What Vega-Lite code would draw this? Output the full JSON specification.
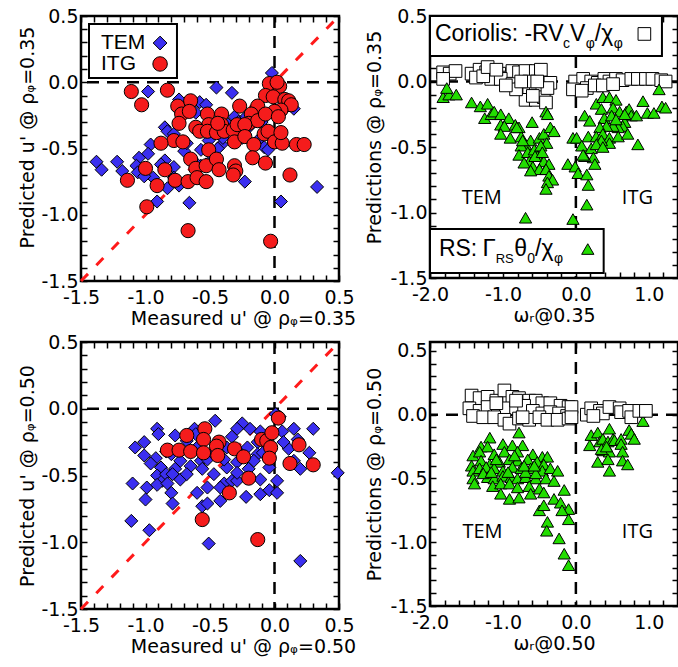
{
  "$schema": "https://vega.github.io/schema/vega-lite/v6.json",
  "background": "white",
  "padding": {"left": 17, "top": 5, "right": 0, "bottom": 0},
  "bounds": "flush",
  "columns": 2,
  "spacing": {"row": 61, "column": 91},
  "datasets": {
    "tl_tem": [
      {"measured":-0.98,"predicted":-0.07},{"measured":-0.45,"predicted":-0.04},{"measured":-0.33,"predicted":-0.08},{"measured":-0.74,"predicted":-0.13},{"measured":-0.58,"predicted":-0.15},{"measured":-0.53,"predicted":-0.17},{"measured":-0.61,"predicted":-0.23},{"measured":-0.85,"predicted":-0.34},{"measured":-0.83,"predicted":-0.37},{"measured":-0.96,"predicted":-0.47},{"measured":-0.98,"predicted":-0.54},{"measured":-1.05,"predicted":-0.57},{"measured":-1.07,"predicted":-0.63},{"measured":-1.06,"predicted":-0.68},{"measured":-1.38,"predicted":-0.6},{"measured":-1.34,"predicted":-0.66},{"measured":-1.22,"predicted":-0.6},{"measured":-1.18,"predicted":-0.67},{"measured":-0.85,"predicted":-0.59},{"measured":-0.78,"predicted":-0.64},{"measured":-0.94,"predicted":-0.72},{"measured":-1.01,"predicted":-0.71},{"measured":-0.83,"predicted":-0.8},{"measured":-0.74,"predicted":-0.78},{"measured":-0.91,"predicted":-0.9},{"measured":-0.66,"predicted":-0.91},{"measured":-0.23,"predicted":-0.75},{"measured":-0.08,"predicted":-0.49},{"measured":-0.05,"predicted":-0.51},{"measured":0.05,"predicted":-0.9},{"measured":0.33,"predicted":-0.79},{"measured":-0.51,"predicted":-0.44},{"measured":-0.41,"predicted":-0.47},{"measured":-0.7,"predicted":-0.52},{"measured":-0.57,"predicted":-0.51},{"measured":-0.47,"predicted":-0.57},{"measured":-0.53,"predicted":-0.62},{"measured":-0.23,"predicted":-0.27},{"measured":-0.13,"predicted":-0.44},{"measured":0.15,"predicted":-0.2},{"measured":-0.31,"predicted":-0.26},{"measured":-0.36,"predicted":-0.32},{"measured":-0.2,"predicted":-0.34},{"measured":-0.78,"predicted":-0.39},{"measured":-0.02,"predicted":0.07},{"measured":-0.28,"predicted":-0.3},{"measured":-0.57,"predicted":-0.63},{"measured":-0.78,"predicted":-0.72},{"measured":-0.05,"predicted":-0.1},{"measured":-0.62,"predicted":-0.6},{"measured":-0.44,"predicted":-0.5},{"measured":-0.25,"predicted":-0.42},{"measured":-0.1,"predicted":-0.3},{"measured":0.1,"predicted":-0.18},{"measured":-0.88,"predicted":-0.62},{"measured":-0.68,"predicted":-0.46},{"measured":-0.4,"predicted":-0.42}
    ],
    "tl_itg": [
      {"measured":-1.11,"predicted":-0.07},{"measured":-1.03,"predicted":-0.17},{"measured":-0.83,"predicted":-0.06},{"measured":-0.04,"predicted":-0.01},{"measured":0.04,"predicted":-0.03},{"measured":-0.07,"predicted":-0.1},{"measured":-0.01,"predicted":-0.11},{"measured":0.08,"predicted":-0.13},{"measured":0.11,"predicted":-0.14},{"measured":0.13,"predicted":-0.17},{"measured":0.05,"predicted":-0.21},{"measured":0.0,"predicted":-0.22},{"measured":-0.13,"predicted":-0.18},{"measured":-0.27,"predicted":-0.18},{"measured":-0.18,"predicted":-0.24},{"measured":-0.2,"predicted":-0.31},{"measured":-0.13,"predicted":-0.29},{"measured":-0.07,"predicted":-0.24},{"measured":0.03,"predicted":-0.26},{"measured":-0.75,"predicted":-0.18},{"measured":-0.65,"predicted":-0.14},{"measured":-0.72,"predicted":-0.24},{"measured":-0.66,"predicted":-0.22},{"measured":-0.74,"predicted":-0.31},{"measured":-0.52,"predicted":-0.24},{"measured":-0.41,"predicted":-0.24},{"measured":-0.41,"predicted":-0.32},{"measured":-0.51,"predicted":-0.32},{"measured":-0.61,"predicted":-0.34},{"measured":-0.58,"predicted":-0.37},{"measured":-0.52,"predicted":-0.37},{"measured":-0.45,"predicted":-0.38},{"measured":-0.39,"predicted":-0.37},{"measured":-0.32,"predicted":-0.36},{"measured":-0.44,"predicted":-0.31},{"measured":-0.29,"predicted":-0.32},{"measured":-0.23,"predicted":-0.32},{"measured":-0.31,"predicted":-0.45},{"measured":-0.23,"predicted":-0.41},{"measured":-0.16,"predicted":-0.47},{"measured":-0.08,"predicted":-0.39},{"measured":-0.05,"predicted":-0.37},{"measured":0.0,"predicted":-0.45},{"measured":0.06,"predicted":-0.46},{"measured":0.17,"predicted":-0.47},{"measured":0.23,"predicted":-0.47},{"measured":0.05,"predicted":-0.38},{"measured":-0.78,"predicted":-0.44},{"measured":-0.71,"predicted":-0.45},{"measured":-0.88,"predicted":-0.46},{"measured":-0.51,"predicted":-0.51},{"measured":-0.65,"predicted":-0.58},{"measured":-0.61,"predicted":-0.65},{"measured":-0.53,"predicted":-0.63},{"measured":-0.45,"predicted":-0.58},{"measured":-0.43,"predicted":-0.66},{"measured":-0.31,"predicted":-0.63},{"measured":-0.3,"predicted":-0.67},{"measured":-0.32,"predicted":-0.7},{"measured":-0.17,"predicted":-0.57},{"measured":-0.07,"predicted":-0.61},{"measured":0.12,"predicted":-0.7},{"measured":-1.0,"predicted":-0.65},{"measured":-0.85,"predicted":-0.66},{"measured":-1.14,"predicted":-0.74},{"measured":-0.91,"predicted":-0.78},{"measured":-0.77,"predicted":-0.74},{"measured":-0.67,"predicted":-0.75},{"measured":-0.6,"predicted":-0.72},{"measured":-0.53,"predicted":-0.75},{"measured":-0.99,"predicted":-0.94},{"measured":-0.67,"predicted":-1.12},{"measured":-0.03,"predicted":-1.2},{"measured":0.02,"predicted":0.0}
    ],
    "bl_tem": [
      {"measured":-0.91,"predicted":-0.15},{"measured":-0.9,"predicted":-0.19},{"measured":-1.01,"predicted":-0.25},{"measured":-1.08,"predicted":-0.29},{"measured":-1.01,"predicted":-0.35},{"measured":-0.92,"predicted":-0.37},{"measured":-0.88,"predicted":-0.44},{"measured":-0.91,"predicted":-0.5},{"measured":-0.87,"predicted":-0.54},{"measured":-0.84,"predicted":-0.49},{"measured":-0.77,"predicted":-0.45},{"measured":-0.79,"predicted":-0.49},{"measured":-0.73,"predicted":-0.39},{"measured":-0.77,"predicted":-0.2},{"measured":-0.62,"predicted":-0.15},{"measured":-0.61,"predicted":-0.19},{"measured":-0.46,"predicted":-0.09},{"measured":-0.65,"predicted":-0.43},{"measured":-0.57,"predicted":-0.39},{"measured":-0.52,"predicted":-0.38},{"measured":-0.56,"predicted":-0.45},{"measured":-0.73,"predicted":-0.53},{"measured":-0.68,"predicted":-0.49},{"measured":-1.1,"predicted":-0.56},{"measured":-0.99,"predicted":-0.59},{"measured":-1.0,"predicted":-0.68},{"measured":-0.91,"predicted":-0.57},{"measured":-0.83,"predicted":-0.56},{"measured":-0.8,"predicted":-0.63},{"measured":-0.79,"predicted":-0.71},{"measured":-1.11,"predicted":-0.84},{"measured":-0.97,"predicted":-0.91},{"measured":-0.6,"predicted":-0.63},{"measured":-0.52,"predicted":-0.59},{"measured":-0.56,"predicted":-0.73},{"measured":-0.52,"predicted":-0.71},{"measured":-0.42,"predicted":-0.69},{"measured":-0.47,"predicted":-0.49},{"measured":-0.39,"predicted":-0.56},{"measured":-0.33,"predicted":-0.54},{"measured":-0.37,"predicted":-0.44},{"measured":-0.29,"predicted":-0.4},{"measured":-0.25,"predicted":-0.34},{"measured":-0.21,"predicted":-0.29},{"measured":-0.13,"predicted":-0.25},{"measured":-0.11,"predicted":-0.17},{"measured":-0.19,"predicted":-0.15},{"measured":-0.25,"predicted":-0.11},{"measured":-0.29,"predicted":-0.15},{"measured":-0.33,"predicted":-0.21},{"measured":-0.37,"predicted":-0.29},{"measured":-0.22,"predicted":-0.66},{"measured":-0.11,"predicted":-0.64},{"measured":-0.11,"predicted":-0.53},{"measured":-0.04,"predicted":-0.61},{"measured":0.02,"predicted":-0.63},{"measured":0.02,"predicted":-0.54},{"measured":-0.04,"predicted":-0.44},{"measured":0.06,"predicted":-0.17},{"measured":0.15,"predicted":-0.15},{"measured":0.11,"predicted":-0.3},{"measured":0.18,"predicted":-0.23},{"measured":0.3,"predicted":-0.15},{"measured":0.27,"predicted":-0.33},{"measured":0.2,"predicted":-0.45},{"measured":0.15,"predicted":-0.39},{"measured":0.07,"predicted":-0.25},{"measured":-0.13,"predicted":-0.34},{"measured":-0.2,"predicted":-0.45},{"measured":-0.51,"predicted":-1.01},{"measured":0.2,"predicted":-1.14},{"measured":0.49,"predicted":-0.48},{"measured":0.01,"predicted":-0.04},{"measured":-0.42,"predicted":-0.59},{"measured":-0.29,"predicted":-0.54},{"measured":-0.68,"predicted":-0.24},{"measured":-0.84,"predicted":-0.32},{"measured":-0.96,"predicted":-0.41},{"measured":-0.8,"predicted":-0.34},{"measured":-0.6,"predicted":-0.29},{"measured":-0.48,"predicted":-0.33},{"measured":-0.39,"predicted":-0.38},{"measured":-0.29,"predicted":-0.48},{"measured":-0.16,"predicted":-0.39},{"measured":-0.09,"predicted":-0.33},{"measured":0.04,"predicted":-0.06}
    ],
    "bl_itg": [
      {"measured":0.03,"predicted":-0.07},{"measured":-0.54,"predicted":-0.15},{"measured":-0.68,"predicted":-0.2},{"measured":-0.55,"predicted":-0.23},{"measured":-0.43,"predicted":-0.25},{"measured":-0.45,"predicted":-0.28},{"measured":-0.83,"predicted":-0.31},{"measured":-0.74,"predicted":-0.31},{"measured":-0.65,"predicted":-0.32},{"measured":-0.55,"predicted":-0.33},{"measured":-0.44,"predicted":-0.35},{"measured":-0.31,"predicted":-0.3},{"measured":-0.24,"predicted":-0.36},{"measured":-0.1,"predicted":-0.23},{"measured":-0.06,"predicted":-0.24},{"measured":-0.02,"predicted":-0.18},{"measured":-0.03,"predicted":-0.29},{"measured":-0.04,"predicted":-0.37},{"measured":0.19,"predicted":-0.27},{"measured":0.12,"predicted":-0.41},{"measured":0.3,"predicted":-0.42},{"measured":-0.2,"predicted":-0.52},{"measured":-0.35,"predicted":-0.63},{"measured":-0.56,"predicted":-0.83},{"measured":-0.13,"predicted":-0.98}
    ],
    "tr_cor": [
      {"omega_r":-1.82,"prediction":0.07},{"omega_r":-1.73,"prediction":0.06},{"omega_r":-1.65,"prediction":0.08},{"omega_r":-1.43,"prediction":0.06},{"omega_r":-1.32,"prediction":0.09},{"omega_r":-1.23,"prediction":0.07},{"omega_r":-1.14,"prediction":0.08},{"omega_r":-1.05,"prediction":0.06},{"omega_r":-0.93,"prediction":0.03},{"omega_r":-0.87,"prediction":0.08},{"omega_r":-0.78,"prediction":0.07},{"omega_r":-0.69,"prediction":0.08},{"omega_r":-0.55,"prediction":0.08},{"omega_r":-0.48,"prediction":0.09},{"omega_r":-1.16,"prediction":0.02},{"omega_r":-1.03,"prediction":0.02},{"omega_r":-0.87,"prediction":-0.02},{"omega_r":-0.75,"prediction":-0.05},{"omega_r":-0.64,"prediction":-0.06},{"omega_r":-0.55,"prediction":-0.09},{"omega_r":-0.46,"prediction":-0.09},{"omega_r":-0.69,"prediction":-0.14},{"omega_r":-0.55,"prediction":-0.14},{"omega_r":-0.44,"prediction":-0.12},{"omega_r":-0.41,"prediction":-0.16},{"omega_r":-0.35,"prediction":-0.01},{"omega_r":-0.82,"prediction":-0.06},{"omega_r":-0.96,"prediction":-0.03},{"omega_r":-0.64,"prediction":0.0},{"omega_r":-0.75,"prediction":0.0},{"omega_r":-0.39,"prediction":-0.05},{"omega_r":-1.82,"prediction":0.02},{"omega_r":-1.37,"prediction":0.03},{"omega_r":-1.27,"prediction":0.04},{"omega_r":-1.21,"prediction":0.11},{"omega_r":-1.09,"prediction":0.09},{"omega_r":-0.53,"prediction":0.0},{"omega_r":-0.59,"prediction":-0.11},
      {"omega_r":-0.01,"prediction":0.0},{"omega_r":0.1,"prediction":0.02},{"omega_r":0.21,"prediction":0.0},{"omega_r":0.3,"prediction":-0.01},{"omega_r":0.39,"prediction":0.02},{"omega_r":0.46,"prediction":0.0},{"omega_r":0.55,"prediction":0.02},{"omega_r":0.64,"prediction":0.01},{"omega_r":0.76,"prediction":0.02},{"omega_r":0.85,"prediction":0.02},{"omega_r":0.96,"prediction":0.02},{"omega_r":1.05,"prediction":0.02},{"omega_r":1.17,"prediction":0.01},{"omega_r":1.23,"prediction":0.0},{"omega_r":-0.04,"prediction":-0.06},{"omega_r":0.15,"prediction":-0.05},{"omega_r":0.26,"prediction":-0.03},{"omega_r":0.37,"prediction":-0.03},{"omega_r":0.51,"prediction":-0.02},{"omega_r":0.08,"prediction":-0.07}
    ],
    "tr_rs": [
      {"omega_r":-1.82,"prediction":-0.12},{"omega_r":-1.74,"prediction":-0.1},{"omega_r":-1.64,"prediction":-0.1},{"omega_r":-1.77,"prediction":-0.05},{"omega_r":-1.43,"prediction":-0.16},{"omega_r":-1.31,"prediction":-0.19},{"omega_r":-1.21,"prediction":-0.17},{"omega_r":-1.25,"prediction":-0.28},{"omega_r":-1.16,"prediction":-0.25},{"omega_r":-1.12,"prediction":-0.23},{"omega_r":-1.03,"prediction":-0.25},{"omega_r":-1.03,"prediction":-0.33},{"omega_r":-0.92,"prediction":-0.28},{"omega_r":-0.98,"prediction":-0.34},{"omega_r":-0.83,"prediction":-0.33},{"omega_r":-0.78,"prediction":-0.35},{"omega_r":-1.03,"prediction":-0.4},{"omega_r":-0.9,"prediction":-0.43},{"omega_r":-0.75,"prediction":-0.42},{"omega_r":-0.69,"prediction":-0.48},{"omega_r":-0.62,"prediction":-0.45},{"omega_r":-0.5,"prediction":-0.43},{"omega_r":-0.44,"prediction":-0.4},{"omega_r":-0.35,"prediction":-0.35},{"omega_r":-0.3,"prediction":-0.38},{"omega_r":-0.4,"prediction":-0.47},{"omega_r":-0.6,"prediction":-0.31},{"omega_r":-0.75,"prediction":-0.49},{"omega_r":-0.78,"prediction":-0.56},{"omega_r":-0.66,"prediction":-0.54},{"omega_r":-0.57,"prediction":-0.52},{"omega_r":-0.48,"prediction":-0.49},{"omega_r":-0.64,"prediction":-0.61},{"omega_r":-0.53,"prediction":-0.57},{"omega_r":-0.44,"prediction":-0.61},{"omega_r":-0.37,"prediction":-0.63},{"omega_r":-0.71,"prediction":-0.62},{"omega_r":-0.59,"prediction":-0.65},{"omega_r":-0.5,"prediction":-0.67},{"omega_r":-0.62,"prediction":-0.68},{"omega_r":-0.41,"prediction":-0.67},{"omega_r":-0.37,"prediction":-0.72},{"omega_r":-0.32,"prediction":-0.75},{"omega_r":-0.39,"prediction":-0.77},{"omega_r":-0.41,"prediction":-0.82},{"omega_r":-0.69,"prediction":-1.04},{"omega_r":-0.81,"prediction":-0.35},{"omega_r":-0.73,"prediction":-0.45},{"omega_r":-0.56,"prediction":-0.57},{"omega_r":-0.46,"prediction":-0.54},{"omega_r":-0.41,"prediction":-0.23},{"omega_r":-0.39,"prediction":-0.25},{"omega_r":-0.11,"prediction":-0.63},{"omega_r":-0.04,"prediction":-1.05},{"omega_r":-0.04,"prediction":-0.43},
      {"omega_r":0.01,"prediction":-0.43},{"omega_r":-0.01,"prediction":-0.65},{"omega_r":0.03,"prediction":-0.7},{"omega_r":0.08,"prediction":-0.49},{"omega_r":0.12,"prediction":-0.26},{"omega_r":0.17,"prediction":-0.42},{"omega_r":0.19,"prediction":-0.3},{"omega_r":0.21,"prediction":-0.51},{"omega_r":0.24,"prediction":-0.58},{"omega_r":0.26,"prediction":-0.63},{"omega_r":0.12,"prediction":-0.57},{"omega_r":0.1,"prediction":-0.56},{"omega_r":0.15,"prediction":-0.71},{"omega_r":0.17,"prediction":-0.79},{"omega_r":0.28,"prediction":-0.17},{"omega_r":0.37,"prediction":-0.12},{"omega_r":0.46,"prediction":-0.12},{"omega_r":0.55,"prediction":-0.14},{"omega_r":0.35,"prediction":-0.21},{"omega_r":0.51,"prediction":-0.2},{"omega_r":0.6,"prediction":-0.23},{"omega_r":0.39,"prediction":-0.28},{"omega_r":0.49,"prediction":-0.26},{"omega_r":0.69,"prediction":-0.23},{"omega_r":0.73,"prediction":-0.21},{"omega_r":0.76,"prediction":-0.26},{"omega_r":0.67,"prediction":-0.31},{"omega_r":0.64,"prediction":-0.34},{"omega_r":0.58,"prediction":-0.35},{"omega_r":0.51,"prediction":-0.34},{"omega_r":0.42,"prediction":-0.34},{"omega_r":0.33,"prediction":-0.35},{"omega_r":0.28,"prediction":-0.42},{"omega_r":0.37,"prediction":-0.4},{"omega_r":0.46,"prediction":-0.43},{"omega_r":0.58,"prediction":-0.42},{"omega_r":0.71,"prediction":-0.4},{"omega_r":0.83,"prediction":-0.26},{"omega_r":0.98,"prediction":-0.24},{"omega_r":1.07,"prediction":-0.24},{"omega_r":1.18,"prediction":-0.19},{"omega_r":1.23,"prediction":-0.2},{"omega_r":1.14,"prediction":-0.06},{"omega_r":0.92,"prediction":-0.15},{"omega_r":0.85,"prediction":-0.48},{"omega_r":0.46,"prediction":-0.47},{"omega_r":0.35,"prediction":-0.45},{"omega_r":0.28,"prediction":-0.48},{"omega_r":0.37,"prediction":-0.5},{"omega_r":0.67,"prediction":-0.25},{"omega_r":0.55,"prediction":-0.29},{"omega_r":0.15,"prediction":-0.94}
    ],
    "br_cor": [
      {"omega_r":-1.43,"prediction":0.15},{"omega_r":-1.32,"prediction":0.13},{"omega_r":-1.21,"prediction":0.14},{"omega_r":-1.09,"prediction":0.11},{"omega_r":-0.98,"prediction":0.19},{"omega_r":-0.87,"prediction":0.14},{"omega_r":-0.78,"prediction":0.13},{"omega_r":-0.64,"prediction":0.11},{"omega_r":-0.55,"prediction":0.11},{"omega_r":-0.46,"prediction":0.09},{"omega_r":-0.35,"prediction":0.09},{"omega_r":-0.21,"prediction":0.07},{"omega_r":-0.1,"prediction":0.06},{"omega_r":-1.46,"prediction":0.05},{"omega_r":-1.32,"prediction":0.03},{"omega_r":-1.21,"prediction":0.06},{"omega_r":-1.07,"prediction":0.03},{"omega_r":-0.96,"prediction":0.05},{"omega_r":-0.82,"prediction":0.05},{"omega_r":-0.71,"prediction":0.07},{"omega_r":-0.59,"prediction":0.03},{"omega_r":-0.46,"prediction":0.01},{"omega_r":-0.35,"prediction":0.02},{"omega_r":-0.23,"prediction":0.01},{"omega_r":-0.12,"prediction":-0.01},{"omega_r":-1.41,"prediction":-0.01},{"omega_r":-1.27,"prediction":-0.02},{"omega_r":-1.12,"prediction":-0.02},{"omega_r":-0.98,"prediction":-0.04},{"omega_r":-0.91,"prediction":-0.07},{"omega_r":-0.78,"prediction":-0.03},{"omega_r":-0.64,"prediction":-0.04},{"omega_r":-0.5,"prediction":-0.02},{"omega_r":-0.39,"prediction":-0.04},{"omega_r":-0.25,"prediction":-0.04},{"omega_r":-0.1,"prediction":-0.03},{"omega_r":-1.09,"prediction":0.09},{"omega_r":-0.73,"prediction":-0.02},{"omega_r":-0.82,"prediction":0.11},{"omega_r":-0.06,"prediction":0.06},{"omega_r":-0.06,"prediction":-0.02},
      {"omega_r":0.15,"prediction":0.0},{"omega_r":0.21,"prediction":0.05},{"omega_r":0.33,"prediction":0.03},{"omega_r":0.37,"prediction":0.01},{"omega_r":0.46,"prediction":0.06},{"omega_r":0.6,"prediction":0.05},{"omega_r":0.62,"prediction":0.02},{"omega_r":0.73,"prediction":0.03},{"omega_r":0.76,"prediction":-0.02},{"omega_r":0.87,"prediction":0.03},{"omega_r":0.96,"prediction":0.03},{"omega_r":0.24,"prediction":-0.01}
    ],
    "br_rs": [
      {"omega_r":-1.18,"prediction":-0.18},{"omega_r":-0.78,"prediction":-0.14},{"omega_r":-1.3,"prediction":-0.25},{"omega_r":-1.21,"prediction":-0.25},{"omega_r":-1.0,"prediction":-0.23},{"omega_r":-0.87,"prediction":-0.24},{"omega_r":-0.73,"prediction":-0.24},{"omega_r":-1.41,"prediction":-0.32},{"omega_r":-1.32,"prediction":-0.29},{"omega_r":-1.12,"prediction":-0.31},{"omega_r":-0.98,"prediction":-0.29},{"omega_r":-0.8,"prediction":-0.29},{"omega_r":-0.59,"prediction":-0.31},{"omega_r":-0.46,"prediction":-0.33},{"omega_r":-0.39,"prediction":-0.33},{"omega_r":-1.43,"prediction":-0.4},{"omega_r":-1.3,"prediction":-0.36},{"omega_r":-1.18,"prediction":-0.39},{"omega_r":-1.05,"prediction":-0.37},{"omega_r":-0.91,"prediction":-0.35},{"omega_r":-0.8,"prediction":-0.36},{"omega_r":-0.66,"prediction":-0.35},{"omega_r":-0.53,"prediction":-0.37},{"omega_r":-0.44,"prediction":-0.39},{"omega_r":-1.41,"prediction":-0.44},{"omega_r":-1.32,"prediction":-0.42},{"omega_r":-1.23,"prediction":-0.41},{"omega_r":-1.12,"prediction":-0.42},{"omega_r":-1.0,"prediction":-0.44},{"omega_r":-0.87,"prediction":-0.41},{"omega_r":-0.75,"prediction":-0.42},{"omega_r":-0.62,"prediction":-0.42},{"omega_r":-0.46,"prediction":-0.44},{"omega_r":-0.35,"prediction":-0.42},{"omega_r":-0.25,"prediction":-0.44},{"omega_r":-1.41,"prediction":-0.5},{"omega_r":-1.39,"prediction":-0.54},{"omega_r":-1.21,"prediction":-0.49},{"omega_r":-1.12,"prediction":-0.5},{"omega_r":-1.0,"prediction":-0.48},{"omega_r":-0.89,"prediction":-0.49},{"omega_r":-0.8,"prediction":-0.5},{"omega_r":-0.69,"prediction":-0.49},{"omega_r":-0.55,"prediction":-0.5},{"omega_r":-0.41,"prediction":-0.5},{"omega_r":-0.3,"prediction":-0.52},{"omega_r":-1.14,"prediction":-0.56},{"omega_r":-1.03,"prediction":-0.54},{"omega_r":-0.91,"prediction":-0.54},{"omega_r":-0.8,"prediction":-0.57},{"omega_r":-0.64,"prediction":-0.56},{"omega_r":-0.5,"prediction":-0.58},{"omega_r":-1.03,"prediction":-0.62},{"omega_r":-0.91,"prediction":-0.66},{"omega_r":-0.78,"prediction":-0.65},{"omega_r":-0.62,"prediction":-0.62},{"omega_r":-0.44,"prediction":-0.61},{"omega_r":-0.3,"prediction":-0.66},{"omega_r":-0.16,"prediction":-0.59},{"omega_r":-0.21,"prediction":-0.69},{"omega_r":-0.1,"prediction":-0.74},{"omega_r":-0.5,"prediction":-0.75},{"omega_r":-0.44,"prediction":-0.71},{"omega_r":-0.19,"prediction":-0.75},{"omega_r":-0.1,"prediction":-0.82},{"omega_r":-0.39,"prediction":-0.84},{"omega_r":-0.4,"prediction":-0.91},{"omega_r":-0.23,"prediction":-0.97},{"omega_r":-0.16,"prediction":-1.09},{"omega_r":-0.1,"prediction":-1.18},{"omega_r":-1.27,"prediction":-0.46},{"omega_r":-1.16,"prediction":-0.45},{"omega_r":-0.93,"prediction":-0.45},{"omega_r":-0.69,"prediction":-0.45},{"omega_r":-0.55,"prediction":-0.46},{"omega_r":-1.09,"prediction":-0.35},{"omega_r":-0.84,"prediction":-0.32},{"omega_r":-0.71,"prediction":-0.4},{"omega_r":-0.57,"prediction":-0.4},
      {"omega_r":0.21,"prediction":-0.16},{"omega_r":0.19,"prediction":-0.24},{"omega_r":0.3,"prediction":-0.14},{"omega_r":0.33,"prediction":-0.21},{"omega_r":0.3,"prediction":-0.37},{"omega_r":0.37,"prediction":-0.19},{"omega_r":0.37,"prediction":-0.28},{"omega_r":0.44,"prediction":-0.21},{"omega_r":0.46,"prediction":-0.11},{"omega_r":0.46,"prediction":-0.29},{"omega_r":0.44,"prediction":-0.35},{"omega_r":0.51,"prediction":-0.19},{"omega_r":0.53,"prediction":-0.2},{"omega_r":0.62,"prediction":-0.19},{"omega_r":0.62,"prediction":-0.23},{"omega_r":0.64,"prediction":-0.29},{"omega_r":0.64,"prediction":-0.36},{"omega_r":0.73,"prediction":-0.12},{"omega_r":0.76,"prediction":-0.15},{"omega_r":0.8,"prediction":-0.19},{"omega_r":0.71,"prediction":-0.39},{"omega_r":0.46,"prediction":-0.44},{"omega_r":0.92,"prediction":-0.05},{"omega_r":0.35,"prediction":-0.27},{"omega_r":0.42,"prediction":-0.25}
    ]
  },
  "concat": [
    {
      "width": 258, "height": 265,
      "resolve": {"axis": {"x": "independent", "y": "independent"}},
      "layer": [
        {"data": {"values": [{}]}, "mark": {"type": "rule", "strokeDash": [12, 8], "strokeWidth": 2.5, "color": "black"},
         "encoding": {"y": {"datum": 0, "type": "quantitative", "axis": {"orient": "right", "title": null, "labels": false, "values": [-1.5,-1.4,-1.3,-1.2,-1.1,-1,-0.9,-0.8,-0.7,-0.6,-0.5,-0.4,-0.3,-0.2,-0.1,0,0.1,0.2,0.3,0.4,0.5]}}}},
        {"data": {"values": [{}]}, "mark": {"type": "rule", "strokeDash": [12, 8], "strokeWidth": 2.5, "color": "black"},
         "encoding": {"x": {"datum": 0, "type": "quantitative", "axis": {"orient": "top", "title": null, "labels": false, "values": [-1.5,-1.4,-1.3,-1.2,-1.1,-1,-0.9,-0.8,-0.7,-0.6,-0.5,-0.4,-0.3,-0.2,-0.1,0,0.1,0.2,0.3,0.4,0.5]}}}},
        {"data": {"values": [{}]}, "mark": {"type": "rule", "strokeDash": [10, 12], "strokeWidth": 3, "color": "#ff1a1a"},
         "encoding": {"x": {"datum": -1.5, "type": "quantitative", "axis": null}, "y": {"datum": -1.5, "type": "quantitative", "axis": null}, "x2": {"datum": 0.5}, "y2": {"datum": 0.5}}},
        {"data": {"name": "tl_tem"}, "mark": {"type": "point", "shape": "diamond", "filled": true, "fill": "#3b2ff0", "stroke": "black", "strokeWidth": 1, "size": 170, "opacity": 1},
         "encoding": {
           "x": {"field": "measured", "type": "quantitative", "scale": {"domain": [-1.5, 0.5], "nice": false, "zero": false},
                 "axis": {"orient": "bottom", "title": "Measured u' @ ρᵩ=0.35", "titleX": 162, "titlePadding": 2, "values": [-1.5,-1.4,-1.3,-1.2,-1.1,-1,-0.9,-0.8,-0.7,-0.6,-0.5,-0.4,-0.3,-0.2,-0.1,0,0.1,0.2,0.3,0.4,0.5], "labelExpr": "abs(datum.value*2-round(datum.value*2))<0.01 ? replace(format(datum.value,'.1f'),'−','-') : ''"}},
           "y": {"field": "predicted", "type": "quantitative", "scale": {"domain": [-1.5, 0.5], "nice": false, "zero": false},
                 "axis": {"orient": "left", "title": "Predicted u' @ ρᵩ=0.35", "titleY": 121, "titlePadding": 3, "values": [-1.5,-1.4,-1.3,-1.2,-1.1,-1,-0.9,-0.8,-0.7,-0.6,-0.5,-0.4,-0.3,-0.2,-0.1,0,0.1,0.2,0.3,0.4,0.5], "labelExpr": "abs(datum.value*2-round(datum.value*2))<0.01 ? replace(format(datum.value,'.1f'),'−','-') : ''"}}
         }},
        {"data": {"name": "tl_itg"}, "mark": {"type": "point", "shape": "circle", "filled": true, "fill": "#f51c1c", "stroke": "black", "strokeWidth": 1, "size": 200, "opacity": 1},
         "encoding": {"x": {"field": "measured", "type": "quantitative", "axis": null}, "y": {"field": "predicted", "type": "quantitative", "axis": null}}},
        {"data": {"values": [{}]}, "mark": {"type": "rect", "fill": "white", "stroke": "black", "strokeWidth": 2},
         "encoding": {"x": {"datum": -1.438, "type": "quantitative", "axis": null}, "x2": {"datum": -0.756}, "y": {"datum": 0.44, "type": "quantitative", "axis": null}, "y2": {"datum": 0.032}}},
        {"data": {"values": [{}]}, "mark": {"type": "text", "align": "left", "baseline": "middle", "font": "Liberation Sans", "fontSize": 21, "color": "black"},
         "encoding": {"x": {"datum": -1.345, "type": "quantitative", "axis": null}, "y": {"datum": 0.296, "type": "quantitative", "axis": null}, "text": {"value": "TEM"}}},
        {"data": {"values": [{}]}, "mark": {"type": "text", "align": "left", "baseline": "middle", "font": "Liberation Sans", "fontSize": 21, "color": "black"},
         "encoding": {"x": {"datum": -1.345, "type": "quantitative", "axis": null}, "y": {"datum": 0.138, "type": "quantitative", "axis": null}, "text": {"value": "ITG"}}},
        {"data": {"values": [{}]}, "mark": {"type": "point", "shape": "diamond", "filled": true, "fill": "#3b2ff0", "stroke": "black", "strokeWidth": 1, "size": 190, "opacity": 1},
         "encoding": {"x": {"datum": -0.887, "type": "quantitative", "axis": null}, "y": {"datum": 0.296, "type": "quantitative", "axis": null}}},
        {"data": {"values": [{}]}, "mark": {"type": "point", "shape": "circle", "filled": true, "fill": "#f51c1c", "stroke": "black", "strokeWidth": 1, "size": 210, "opacity": 1},
         "encoding": {"x": {"datum": -0.887, "type": "quantitative", "axis": null}, "y": {"datum": 0.138, "type": "quantitative", "axis": null}}}
      ]
    },
    {
      "width": 248, "height": 262,
      "resolve": {"axis": {"x": "independent", "y": "independent"}},
      "layer": [
        {"data": {"values": [{}]}, "mark": {"type": "rule", "strokeDash": [12, 8], "strokeWidth": 2.5, "color": "black"},
         "encoding": {"y": {"datum": 0, "type": "quantitative", "axis": {"orient": "right", "title": null, "labels": false, "values": [-1.5,-1.4,-1.3,-1.2,-1.1,-1,-0.9,-0.8,-0.7,-0.6,-0.5,-0.4,-0.3,-0.2,-0.1,0,0.1,0.2,0.3,0.4,0.5]}}}},
        {"data": {"values": [{}]}, "mark": {"type": "rule", "strokeDash": [12, 8], "strokeWidth": 2.5, "color": "black"},
         "encoding": {"x": {"datum": 0, "type": "quantitative", "axis": {"orient": "top", "title": null, "labels": false, "values": [-2,-1.8,-1.6,-1.4,-1.2,-1,-0.8,-0.6,-0.4,-0.2,0,0.2,0.4,0.6,0.8,1,1.2,1.4]}}}},
        {"data": {"name": "tr_cor"}, "mark": {"type": "point", "shape": "square", "filled": true, "fill": "white", "stroke": "black", "strokeWidth": 1, "size": 160, "opacity": 1},
         "encoding": {
           "x": {"field": "omega_r", "type": "quantitative", "scale": {"domain": [-2, 1.4], "nice": false, "zero": false},
                 "axis": {"orient": "bottom", "title": "ωᵣ@0.35", "titlePadding": 2, "values": [-2,-1.8,-1.6,-1.4,-1.2,-1,-0.8,-0.6,-0.4,-0.2,0,0.2,0.4,0.6,0.8,1,1.2,1.4], "labelExpr": "abs(datum.value-round(datum.value))<0.01 ? replace(format(datum.value,'.1f'),'−','-') : ''"}},
           "y": {"field": "prediction", "type": "quantitative", "scale": {"domain": [-1.5, 0.5], "nice": false, "zero": false},
                 "axis": {"orient": "left", "title": "Predictions @ ρᵩ=0.35", "titleY": 121, "titlePadding": 5, "values": [-1.5,-1.4,-1.3,-1.2,-1.1,-1,-0.9,-0.8,-0.7,-0.6,-0.5,-0.4,-0.3,-0.2,-0.1,0,0.1,0.2,0.3,0.4,0.5], "labelExpr": "abs(datum.value*2-round(datum.value*2))<0.01 ? replace(format(datum.value,'.1f'),'−','-') : ''"}}
         }},
        {"data": {"name": "tr_rs"}, "mark": {"type": "point", "shape": "triangle-up", "filled": true, "fill": "#22dd00", "stroke": "black", "strokeWidth": 1, "size": 150, "opacity": 1},
         "encoding": {"x": {"field": "omega_r", "type": "quantitative", "axis": null}, "y": {"field": "prediction", "type": "quantitative", "axis": null}}},
        {"data": {"values": [{}]}, "mark": {"type": "rect", "fill": "white", "stroke": "black", "strokeWidth": 2},
         "encoding": {"x": {"datum": -2, "type": "quantitative", "axis": null}, "x2": {"datum": 1.18}, "y": {"datum": 0.5, "type": "quantitative", "axis": null}, "y2": {"datum": 0.195}}},
        {"data": {"values": [{}]}, "mark": {"type": "text", "align": "left", "baseline": "middle", "font": "Liberation Sans", "fontSize": 23, "color": "black"},
         "encoding": {"x": {"datum": -1.932, "type": "quantitative", "axis": null}, "y": {"datum": 0.363, "type": "quantitative", "axis": null}, "text": {"value": "Coriolis: -RV"}}},
        {"data": {"values": [{}]}, "mark": {"type": "text", "align": "left", "baseline": "middle", "font": "Liberation Sans", "fontSize": 14, "color": "black"},
         "encoding": {"x": {"datum": -0.177, "type": "quantitative", "axis": null}, "y": {"datum": 0.29, "type": "quantitative", "axis": null}, "text": {"value": "c"}}},
        {"data": {"values": [{}]}, "mark": {"type": "text", "align": "left", "baseline": "middle", "font": "Liberation Sans", "fontSize": 23, "color": "black"},
         "encoding": {"x": {"datum": -0.082, "type": "quantitative", "axis": null}, "y": {"datum": 0.363, "type": "quantitative", "axis": null}, "text": {"value": "V"}}},
        {"data": {"values": [{}]}, "mark": {"type": "text", "align": "left", "baseline": "middle", "font": "Liberation Sans", "fontSize": 14, "color": "black"},
         "encoding": {"x": {"datum": 0.136, "type": "quantitative", "axis": null}, "y": {"datum": 0.29, "type": "quantitative", "axis": null}, "text": {"value": "φ"}}},
        {"data": {"values": [{}]}, "mark": {"type": "text", "align": "left", "baseline": "middle", "font": "Liberation Sans", "fontSize": 23, "color": "black"},
         "encoding": {"x": {"datum": 0.259, "type": "quantitative", "axis": null}, "y": {"datum": 0.363, "type": "quantitative", "axis": null}, "text": {"value": "/χ"}}},
        {"data": {"values": [{}]}, "mark": {"type": "text", "align": "left", "baseline": "middle", "font": "Liberation Sans", "fontSize": 14, "color": "black"},
         "encoding": {"x": {"datum": 0.52, "type": "quantitative", "axis": null}, "y": {"datum": 0.29, "type": "quantitative", "axis": null}, "text": {"value": "φ"}}},
        {"data": {"values": [{}]}, "mark": {"type": "point", "shape": "square", "filled": true, "fill": "white", "stroke": "black", "strokeWidth": 1, "size": 160, "opacity": 1},
         "encoding": {"x": {"datum": 0.939, "type": "quantitative", "axis": null}, "y": {"datum": 0.363, "type": "quantitative", "axis": null}}},
        {"data": {"values": [{}]}, "mark": {"type": "rect", "fill": "white", "stroke": "black", "strokeWidth": 2},
         "encoding": {"x": {"datum": -2, "type": "quantitative", "axis": null}, "x2": {"datum": 0.381}, "y": {"datum": -1.126, "type": "quantitative", "axis": null}, "y2": {"datum": -1.462}}},
        {"data": {"values": [{}]}, "mark": {"type": "text", "align": "left", "baseline": "middle", "font": "Liberation Sans", "fontSize": 23, "color": "black"},
         "encoding": {"x": {"datum": -1.878, "type": "quantitative", "axis": null}, "y": {"datum": -1.279, "type": "quantitative", "axis": null}, "text": {"value": "RS:"}}},
        {"data": {"values": [{}]}, "mark": {"type": "text", "align": "left", "baseline": "middle", "font": "Liberation Sans", "fontSize": 24, "color": "black"},
         "encoding": {"x": {"datum": -1.28, "type": "quantitative", "axis": null}, "y": {"datum": -1.279, "type": "quantitative", "axis": null}, "text": {"value": "Γ"}}},
        {"data": {"values": [{}]}, "mark": {"type": "text", "align": "left", "baseline": "middle", "font": "Liberation Sans", "fontSize": 13, "color": "black"},
         "encoding": {"x": {"datum": -1.1, "type": "quantitative", "axis": null}, "y": {"datum": -1.355, "type": "quantitative", "axis": null}, "text": {"value": "RS"}}},
        {"data": {"values": [{}]}, "mark": {"type": "text", "align": "left", "baseline": "middle", "font": "Liberation Sans", "fontSize": 23, "color": "black"},
         "encoding": {"x": {"datum": -0.845, "type": "quantitative", "axis": null}, "y": {"datum": -1.279, "type": "quantitative", "axis": null}, "text": {"value": "θ"}}},
        {"data": {"values": [{}]}, "mark": {"type": "text", "align": "left", "baseline": "middle", "font": "Liberation Sans", "fontSize": 14, "color": "black"},
         "encoding": {"x": {"datum": -0.668, "type": "quantitative", "axis": null}, "y": {"datum": -1.355, "type": "quantitative", "axis": null}, "text": {"value": "0"}}},
        {"data": {"values": [{}]}, "mark": {"type": "text", "align": "left", "baseline": "middle", "font": "Liberation Sans", "fontSize": 23, "color": "black"},
         "encoding": {"x": {"datum": -0.56, "type": "quantitative", "axis": null}, "y": {"datum": -1.279, "type": "quantitative", "axis": null}, "text": {"value": "/χ"}}},
        {"data": {"values": [{}]}, "mark": {"type": "text", "align": "left", "baseline": "middle", "font": "Liberation Sans", "fontSize": 14, "color": "black"},
         "encoding": {"x": {"datum": -0.3, "type": "quantitative", "axis": null}, "y": {"datum": -1.355, "type": "quantitative", "axis": null}, "text": {"value": "φ"}}},
        {"data": {"values": [{}]}, "mark": {"type": "point", "shape": "triangle-up", "filled": true, "fill": "#22dd00", "stroke": "black", "strokeWidth": 1, "size": 150, "opacity": 1},
         "encoding": {"x": {"datum": 0.163, "type": "quantitative", "axis": null}, "y": {"datum": -1.279, "type": "quantitative", "axis": null}}},
        {"data": {"values": [{}]}, "mark": {"type": "text", "align": "center", "baseline": "middle", "font": "Open Sans", "fontSize": 20, "color": "black"},
         "encoding": {"x": {"datum": -1.29, "type": "quantitative", "axis": null}, "y": {"datum": -0.889, "type": "quantitative", "axis": null}, "text": {"value": "TEM"}}},
        {"data": {"values": [{}]}, "mark": {"type": "text", "align": "center", "baseline": "middle", "font": "Open Sans", "fontSize": 20, "color": "black"},
         "encoding": {"x": {"datum": 0.844, "type": "quantitative", "axis": null}, "y": {"datum": -0.889, "type": "quantitative", "axis": null}, "text": {"value": "ITG"}}}
      ]
    },
    {
      "width": 258, "height": 267,
      "resolve": {"axis": {"x": "independent", "y": "independent"}},
      "layer": [
        {"data": {"values": [{}]}, "mark": {"type": "rule", "strokeDash": [12, 8], "strokeWidth": 2.5, "color": "black"},
         "encoding": {"y": {"datum": 0, "type": "quantitative", "axis": {"orient": "right", "title": null, "labels": false, "values": [-1.5,-1.4,-1.3,-1.2,-1.1,-1,-0.9,-0.8,-0.7,-0.6,-0.5,-0.4,-0.3,-0.2,-0.1,0,0.1,0.2,0.3,0.4,0.5]}}}},
        {"data": {"values": [{}]}, "mark": {"type": "rule", "strokeDash": [12, 8], "strokeWidth": 2.5, "color": "black"},
         "encoding": {"x": {"datum": 0, "type": "quantitative", "axis": {"orient": "top", "title": null, "labels": false, "values": [-1.5,-1.4,-1.3,-1.2,-1.1,-1,-0.9,-0.8,-0.7,-0.6,-0.5,-0.4,-0.3,-0.2,-0.1,0,0.1,0.2,0.3,0.4,0.5]}}}},
        {"data": {"values": [{}]}, "mark": {"type": "rule", "strokeDash": [10, 12], "strokeWidth": 3, "color": "#ff1a1a"},
         "encoding": {"x": {"datum": -1.5, "type": "quantitative", "axis": null}, "y": {"datum": -1.5, "type": "quantitative", "axis": null}, "x2": {"datum": 0.5}, "y2": {"datum": 0.5}}},
        {"data": {"name": "bl_tem"}, "mark": {"type": "point", "shape": "diamond", "filled": true, "fill": "#3b2ff0", "stroke": "black", "strokeWidth": 1, "size": 170, "opacity": 1},
         "encoding": {
           "x": {"field": "measured", "type": "quantitative", "scale": {"domain": [-1.5, 0.5], "nice": false, "zero": false},
                 "axis": {"orient": "bottom", "title": "Measured u' @ ρᵩ=0.50", "titleX": 162, "titlePadding": 2, "values": [-1.5,-1.4,-1.3,-1.2,-1.1,-1,-0.9,-0.8,-0.7,-0.6,-0.5,-0.4,-0.3,-0.2,-0.1,0,0.1,0.2,0.3,0.4,0.5], "labelExpr": "abs(datum.value*2-round(datum.value*2))<0.01 ? replace(format(datum.value,'.1f'),'−','-') : ''"}},
           "y": {"field": "predicted", "type": "quantitative", "scale": {"domain": [-1.5, 0.5], "nice": false, "zero": false},
                 "axis": {"orient": "left", "title": "Predicted u' @ ρᵩ=0.50", "titlePadding": 3, "values": [-1.5,-1.4,-1.3,-1.2,-1.1,-1,-0.9,-0.8,-0.7,-0.6,-0.5,-0.4,-0.3,-0.2,-0.1,0,0.1,0.2,0.3,0.4,0.5], "labelExpr": "abs(datum.value*2-round(datum.value*2))<0.01 ? replace(format(datum.value,'.1f'),'−','-') : ''"}}
         }},
        {"data": {"name": "bl_itg"}, "mark": {"type": "point", "shape": "circle", "filled": true, "fill": "#f51c1c", "stroke": "black", "strokeWidth": 1, "size": 200, "opacity": 1},
         "encoding": {"x": {"field": "measured", "type": "quantitative", "axis": null}, "y": {"field": "predicted", "type": "quantitative", "axis": null}}}
      ]
    },
    {
      "width": 248, "height": 264,
      "resolve": {"axis": {"x": "independent", "y": "independent"}},
      "layer": [
        {"data": {"values": [{}]}, "mark": {"type": "rule", "strokeDash": [12, 8], "strokeWidth": 2.5, "color": "black"},
         "encoding": {"y": {"datum": 0, "type": "quantitative", "axis": {"orient": "right", "title": null, "labels": false, "values": [-1.5,-1.4,-1.3,-1.2,-1.1,-1,-0.9,-0.8,-0.7,-0.6,-0.5,-0.4,-0.3,-0.2,-0.1,0,0.1,0.2,0.3,0.4,0.5]}}}},
        {"data": {"values": [{}]}, "mark": {"type": "rule", "strokeDash": [12, 8], "strokeWidth": 2.5, "color": "black"},
         "encoding": {"x": {"datum": 0, "type": "quantitative", "axis": {"orient": "top", "title": null, "labels": false, "values": [-2,-1.8,-1.6,-1.4,-1.2,-1,-0.8,-0.6,-0.4,-0.2,0,0.2,0.4,0.6,0.8,1,1.2,1.4]}}}},
        {"data": {"name": "br_rs"}, "mark": {"type": "point", "shape": "triangle-up", "filled": true, "fill": "#22dd00", "stroke": "black", "strokeWidth": 1, "size": 150, "opacity": 1},
         "encoding": {"x": {"field": "omega_r", "type": "quantitative", "axis": null}, "y": {"field": "prediction", "type": "quantitative", "axis": null}}},
        {"data": {"name": "br_cor"}, "mark": {"type": "point", "shape": "square", "filled": true, "fill": "white", "stroke": "black", "strokeWidth": 1, "size": 160, "opacity": 1},
         "encoding": {
           "x": {"field": "omega_r", "type": "quantitative", "scale": {"domain": [-2, 1.4], "nice": false, "zero": false},
                 "axis": {"orient": "bottom", "title": "ωᵣ@0.50", "titlePadding": 2, "values": [-2,-1.8,-1.6,-1.4,-1.2,-1,-0.8,-0.6,-0.4,-0.2,0,0.2,0.4,0.6,0.8,1,1.2,1.4], "labelExpr": "abs(datum.value-round(datum.value))<0.01 ? replace(format(datum.value,'.1f'),'−','-') : ''"}},
           "y": {"field": "prediction", "type": "quantitative", "scale": {"domain": [-1.5, 0.57], "nice": false, "zero": false},
                 "axis": {"orient": "left", "title": "Predictions @ ρᵩ=0.50", "titlePadding": 5, "values": [-1.5,-1.4,-1.3,-1.2,-1.1,-1,-0.9,-0.8,-0.7,-0.6,-0.5,-0.4,-0.3,-0.2,-0.1,0,0.1,0.2,0.3,0.4,0.5], "labelExpr": "abs(datum.value*2-round(datum.value*2))<0.01 ? replace(format(datum.value,'.1f'),'−','-') : ''"}}
         }},
        {"data": {"values": [{}]}, "mark": {"type": "text", "align": "center", "baseline": "middle", "font": "Open Sans", "fontSize": 20, "color": "black"},
         "encoding": {"x": {"datum": -1.28, "type": "quantitative", "axis": null}, "y": {"datum": -0.92, "type": "quantitative", "axis": null}, "text": {"value": "TEM"}}},
        {"data": {"values": [{}]}, "mark": {"type": "text", "align": "center", "baseline": "middle", "font": "Open Sans", "fontSize": 20, "color": "black"},
         "encoding": {"x": {"datum": 0.844, "type": "quantitative", "axis": null}, "y": {"datum": -0.92, "type": "quantitative", "axis": null}, "text": {"value": "ITG"}}}
      ]
    }
  ],
  "config": {
    "view": {"stroke": "black", "strokeWidth": 2.5},
    "axis": {
      "domain": false, "grid": false, "ticks": true,
      "tickColor": "black", "tickWidth": 1.5, "tickSize": -6,
      "labelFont": "DejaVu Sans", "labelFontSize": 19, "labelColor": "black",
      "titleFont": "DejaVu Sans", "titleFontSize": 19, "titleFontWeight": "normal", "titleColor": "black",
      "labelOverlap": false, "labelFlush": false, "labelBound": false
    },
    "axisX": {"labelPadding": 13},
    "axisY": {"labelPadding": 9}
  }
}
